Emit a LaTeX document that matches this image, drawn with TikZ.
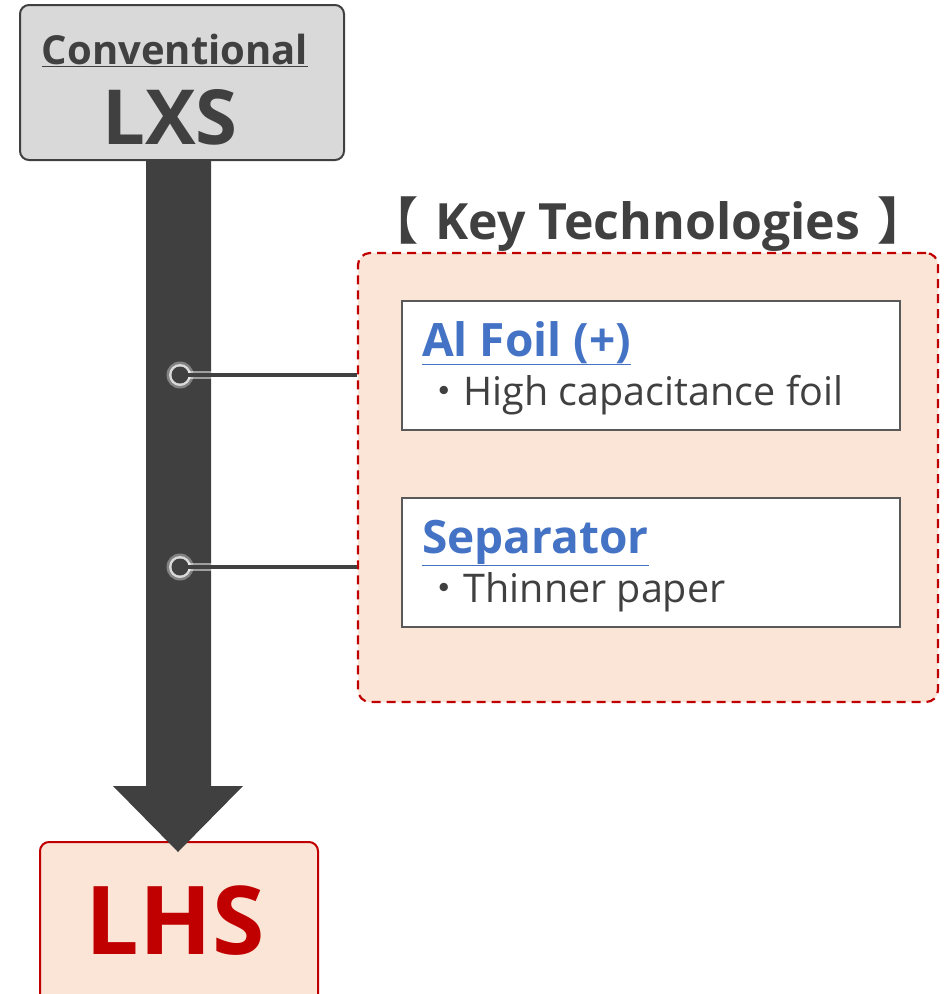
\documentclass[tikz,border=0pt]{standalone}
\usepackage{fontspec}
\setmainfont{Open Sans}
\newfontfamily\cjk{Noto Sans CJK JP}
\definecolor{dg}{HTML}{404040}
\definecolor{lg}{HTML}{D9D9D9}
\definecolor{pk}{HTML}{FBE5D6}
\definecolor{rd}{HTML}{C00000}
\definecolor{bl}{HTML}{4472C4}
\definecolor{bx}{HTML}{595959}
\tikzset{
  topbox/.style={draw=dg, line width=2pt, fill=lg, rounded corners=9pt, minimum width=324pt, minimum height=155pt},
  lhsbox/.style={draw=rd, line width=2pt, fill=pk, rounded corners=9pt, minimum width=278pt, minimum height=170pt},
  ktbox/.style={draw=rd, line width=2.2pt, dash pattern=on 9pt off 6pt, fill=pk, rounded corners=12pt, minimum width=580pt, minimum height=449pt},
  itembox/.style={draw=bx, line width=1.5pt, fill=white, minimum width=498pt, minimum height=129pt},
  ttl/.style={text=bl, font=\fontsize{46}{50}\selectfont\bfseries, anchor=base west, inner sep=0pt},
  body/.style={text=dg, font=\fontsize{39.5}{42}\selectfont, anchor=base west, inner sep=0pt},
  dotc/.style={circle, fill=dg, minimum size=17pt, inner sep=0pt},
  glowa/.style={circle, fill=white, fill opacity=0.35, minimum size=27pt, inner sep=0pt},
  glowb/.style={circle, fill=white, fill opacity=0.7, minimum size=22pt, inner sep=0pt},
  conn/.style={draw=dg, line width=3.5pt},
  connglow/.style={draw=white, draw opacity=0.5, line width=8pt}
}
\begin{document}
\begin{tikzpicture}[x=1pt,y=-1pt]
\useasboundingbox (0,0) rectangle (945,994);
% LHS box
\node[lhsbox] (lhs) at (179,927) {};
\node[text=rd, font=\fontsize{95}{100}\selectfont\bfseries, inner sep=0pt] (lhst) at (175,921) {LHS};
% arrow
\fill[dg] (146,158) -- (211,158) -- (211,786) -- (243,786) -- (178,852) -- (113,786) -- (146,786) -- cycle;
% top box
\node[topbox] (top) at (182,82.5) {};
\node[text=dg, font=\fontsize{40}{44}\selectfont\bfseries, inner sep=0pt, anchor=base] (conv) at (175,64) {\underline{Conventional}};
\node[text=dg, font=\fontsize{76}{80}\selectfont\bfseries, inner sep=0pt, anchor=base] (lxs) at (170,144) {LXS};
% key technologies
\node[text=dg, font=\fontsize{50}{54}\selectfont\bfseries, inner sep=0pt, anchor=base] (kttl) at (648,239) {{\cjk 【}\,\,Key Technologies\,\,{\cjk 】}};
\node[ktbox] (kt) at (648,477.5) {};
\node[itembox] (b1) at (651,365.5) {};
\node[itembox] (b2) at (651,562.5) {};
\node[ttl] (t1) at (422,356) {\underline{Al Foil (+)}};
\node[body] (s1) at (424,405) {{\cjk ・}High capacitance foil};
\node[ttl] (t2) at (422,553) {\underline{Separator}};
\node[body] (s2) at (424,602) {{\cjk ・}Thinner paper};
% connectors
\coordinate (c1) at (180,375);
\coordinate (c2) at (180,567);
\node[glowa] (g1) at (c1) {};
\node[glowa] (g2) at (c2) {};
\draw[connglow] (c1) -- (c1 -| kt.west);
\draw[connglow] (c2) -- (c2 -| kt.west);
\node[glowb] (h1) at (c1) {};
\node[glowb] (h2) at (c2) {};
\node[dotc] (d1) at (c1) {};
\node[dotc] (d2) at (c2) {};
\draw[conn] (d1.center) -- (d1 -| kt.west);
\draw[conn] (d2.center) -- (d2 -| kt.west);
\end{tikzpicture}
\end{document}
